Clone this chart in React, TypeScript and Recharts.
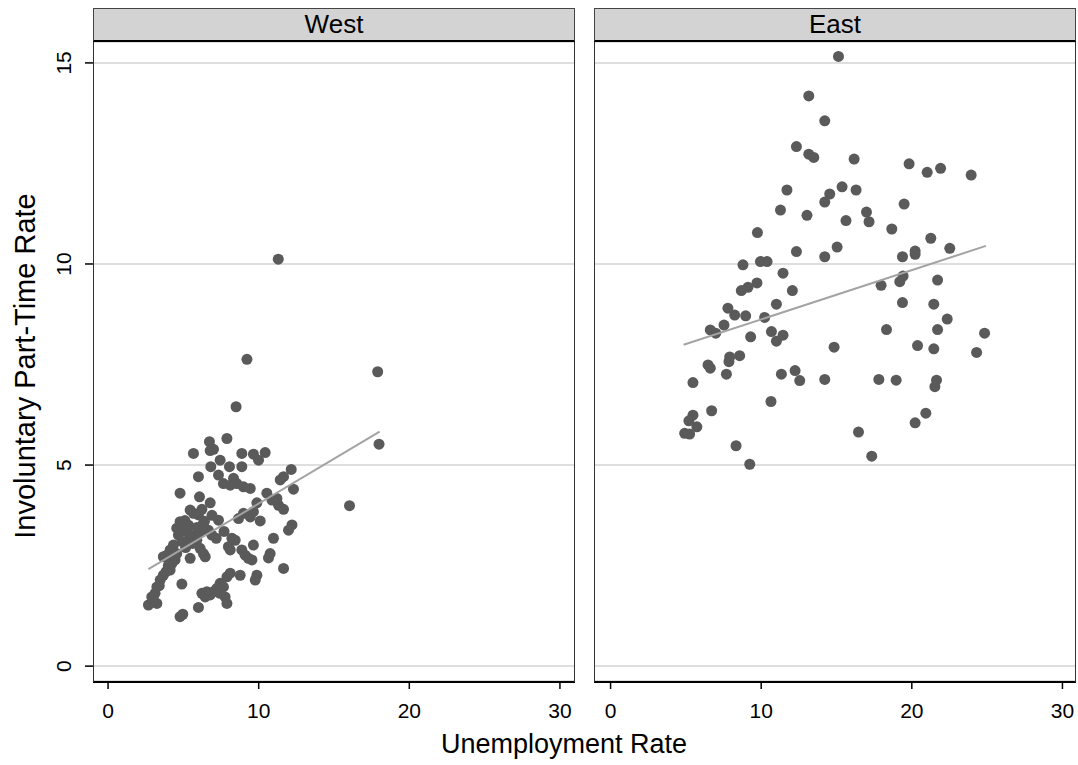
import { CartesianGrid, Scatter, ScatterChart, XAxis, YAxis } from 'recharts';

// unemployment rate, involuntary part-time rate
const westPoints: [number, number][] = [
  [11.3, 10.12], [9.22, 7.63], [8.5, 6.45], [7.89, 5.66], [6.73, 5.58], [6.78, 5.36], [7.0, 5.39],
  [5.67, 5.29], [8.88, 5.29], [9.65, 5.27], [9.99, 5.12], [10.43, 5.31], [6.82, 4.96], [7.44, 5.12],
  [8.06, 4.96], [8.88, 4.96], [12.16, 4.89], [6.0, 4.71], [7.33, 4.75], [7.66, 4.54], [8.33, 4.67],
  [8.55, 4.54], [8.99, 4.46], [9.44, 4.42], [8.11, 4.5], [11.43, 4.63], [11.65, 4.71], [12.31, 4.4],
  [4.78, 4.3], [6.07, 4.21], [6.78, 4.06], [5.45, 3.88], [5.67, 3.8], [6.0, 3.76], [6.23, 3.9],
  [10.54, 4.3], [9.88, 4.06], [10.88, 4.13], [11.21, 4.17], [11.32, 4.0], [11.65, 3.9], [8.99, 3.8],
  [9.44, 3.71], [9.65, 3.84], [8.66, 3.67], [10.1, 3.61], [7.33, 3.63], [4.78, 3.59], [4.56, 3.43],
  [5.0, 3.47], [5.23, 3.34], [4.67, 3.26], [6.33, 3.55], [6.66, 3.38], [6.89, 3.26], [6.11, 3.34],
  [5.78, 3.26], [5.45, 3.18], [5.89, 3.13], [7.18, 3.18], [12.21, 3.51], [11.98, 3.38], [10.98, 3.18],
  [8.22, 3.18], [8.44, 3.13], [7.99, 2.97], [8.11, 2.89], [9.65, 3.01], [8.88, 2.89], [9.1, 2.76],
  [9.32, 2.68], [9.55, 2.64], [10.76, 2.8], [10.65, 2.69], [6.11, 2.93], [6.33, 2.8], [6.45, 2.72],
  [5.45, 2.68], [4.34, 3.01], [4.12, 2.89], [3.9, 2.76], [3.67, 2.72], [4.56, 2.8], [4.45, 2.64],
  [4.23, 2.55], [11.65, 2.43], [4.12, 2.39], [3.67, 2.26], [3.46, 2.14], [3.24, 1.97], [3.12, 1.81],
  [2.9, 1.72], [3.01, 1.64], [2.68, 1.52], [3.24, 1.56], [4.9, 2.04], [9.88, 2.26], [9.77, 2.14],
  [8.77, 2.26], [7.89, 2.22], [8.11, 2.31], [7.44, 2.06], [7.66, 1.97], [7.22, 1.93], [7.0, 1.85],
  [6.56, 1.85], [6.23, 1.81], [6.45, 1.72], [6.78, 1.77], [7.44, 1.81], [7.77, 1.72], [7.89, 1.56],
  [6.0, 1.46], [4.96, 1.29], [4.78, 1.23], [17.9, 7.32], [17.99, 5.52], [16.03, 3.99],
  [5.1, 3.62], [5.35, 3.5], [4.9, 3.1], [5.6, 3.05], [6.4, 3.6], [5.15, 2.95], [4.0, 2.5],
  [3.85, 2.35], [5.9, 3.45], [7.7, 3.35], [6.9, 3.75], [3.4, 2.0],
];

const eastPoints: [number, number][] = [
  [15.13, 15.16], [13.16, 14.18], [14.22, 13.56], [12.34, 12.92], [13.16, 12.73], [13.49, 12.65],
  [16.17, 12.61], [11.71, 11.84], [15.37, 11.92], [16.3, 11.84], [14.55, 11.74], [14.22, 11.54],
  [11.28, 11.34], [13.04, 11.21], [15.63, 11.08], [9.75, 10.78], [12.34, 10.31], [14.22, 10.18],
  [15.04, 10.42], [8.79, 9.98], [9.95, 10.06], [10.39, 10.06], [11.45, 9.77], [12.07, 9.34],
  [8.68, 9.34], [9.12, 9.42], [9.72, 9.53], [11.01, 9.0], [7.79, 8.9], [8.24, 8.73], [8.97, 8.71],
  [10.23, 8.67], [7.53, 8.48], [6.62, 8.36], [6.98, 8.28], [9.3, 8.19], [10.68, 8.32], [11.45, 8.23],
  [11.01, 8.08], [14.84, 7.93], [6.47, 7.49], [6.62, 7.41], [7.91, 7.69], [7.86, 7.57], [8.57, 7.72],
  [7.69, 7.26], [5.47, 7.05], [11.34, 7.26], [12.25, 7.35], [12.56, 7.1], [14.22, 7.13], [10.65, 6.58],
  [6.71, 6.35], [5.47, 6.24], [5.2, 6.1], [5.73, 5.95], [4.92, 5.79], [5.25, 5.77], [8.33, 5.48],
  [9.24, 5.02], [19.82, 12.49], [21.02, 12.28], [21.91, 12.38], [23.94, 12.21], [19.49, 11.49],
  [16.99, 11.29], [17.16, 11.05], [18.67, 10.87], [21.26, 10.64], [20.22, 10.32], [20.22, 10.24],
  [22.52, 10.39], [19.38, 10.18], [19.42, 9.7], [19.2, 9.56], [17.96, 9.47], [21.71, 9.6],
  [19.38, 9.04], [21.46, 9.0], [22.35, 8.63], [18.32, 8.37], [21.71, 8.37], [24.83, 8.28],
  [20.38, 7.97], [21.46, 7.89], [24.3, 7.8], [17.81, 7.13], [18.96, 7.11], [21.64, 7.11],
  [21.53, 6.95], [20.93, 6.29], [20.22, 6.05], [16.46, 5.82], [17.34, 5.22],
];

// fitted line end points
const westFit: [number, number][] = [[2.68, 2.41], [18.03, 5.83]];
const eastFit: [number, number][] = [[4.85, 7.99], [24.92, 10.45]];

const xTicks = [0, 10, 20, 30];
const yTicks = [0, 5, 10, 15];

const FONT = "'Liberation Sans', Arial, sans-serif";
const DOT = '#5a5a5a';

const toRows = (pts: [number, number][]) => pts.map(([x, y]) => ({ x, y }));

const Dot = (p: any) => <circle cx={p.cx} cy={p.cy} r={5.5} fill={DOT} />;
const NoDot = () => <g />;

const YTick = (p: any) => (
    <text
        x={p.x - 21}
        y={p.y}
        transform={`rotate(-90, ${p.x - 21}, ${p.y})`}
        textAnchor="middle"
        dominantBaseline="central"
        fontSize={21}
        fontFamily={FONT}
        fill="#000"
    >
        {p.payload.value}
    </text>
);

function Panel({ title, points, fit, xDomain, left, showY }: any) {
    const width = showY ? 580 : 484;
    const plotLeft = showY ? 93 : 0;
    const plotWidth = 482;
    return (
        <div style={{ position: 'absolute', left, top: 0, width, height: 765 }}>
            <ScatterChart width={width} height={765} margin={{ top: 42, right: width - plotLeft - plotWidth, bottom: 0, left: 0 }}>
                <CartesianGrid vertical={false} stroke="#dedede" strokeWidth={2} />
                <XAxis
                    type="number"
                    dataKey="x"
                    domain={xDomain}
                    ticks={xTicks}
                    allowDataOverflow
                    height={84}
                    axisLine={false}
                    tickSize={8}
                    tickMargin={14}
                    tickLine={{ stroke: '#000', strokeWidth: 1.5 }}
                    tick={{ fontSize: 21, fontFamily: FONT, fill: '#000' }}
                />
                <YAxis
                    type="number"
                    dataKey="y"
                    domain={[-0.37, 15.52]}
                    ticks={yTicks}
                    allowDataOverflow
                    hide={!showY}
                    width={93}
                    axisLine={false}
                    tickSize={8}
                    tickMargin={0}
                    tickLine={{ stroke: '#000', strokeWidth: 1.5 }}
                    tick={<YTick />}
                />
                <Scatter data={toRows(points)} shape={Dot} isAnimationActive={false} />
                <Scatter data={toRows(fit)} shape={NoDot} line={{ stroke: '#a3a3a3', strokeWidth: 2 }} isAnimationActive={false} />
            </ScatterChart>
            {/* strip */}
            <div
                style={{
                    position: 'absolute', left: plotLeft, top: 8, width: plotWidth, height: 34, boxSizing: 'border-box',
                    background: '#d3d3d3', borderTop: '1px solid #444', borderLeft: '1px solid #444', borderRight: '1px solid #444',
                    borderBottom: '2px solid #000', textAlign: 'center', fontFamily: FONT, fontSize: 26, lineHeight: '31px', color: '#000',
                }}
            >
                {title}
            </div>
            {/* frame */}
            <div
                style={{
                    position: 'absolute', left: plotLeft, top: 42, width: plotWidth, height: 641, boxSizing: 'border-box',
                    borderLeft: '1px solid #333', borderRight: '1px solid #333', borderBottom: '2px solid #000', pointerEvents: 'none',
                }}
            />
        </div>
    );
}

export default function App() {
    return (
        <div style={{ position: 'absolute', left: 0, top: 0, width: 1078, height: 765, background: '#fff', fontFamily: FONT }}>
            <Panel title="West" points={westPoints} fit={westFit} xDomain={[-1, 31]} left={0} showY />
            <Panel title="East" points={eastPoints} fit={eastFit} xDomain={[-1.1, 30.9]} left={594} showY={false} />
            <div style={{ position: 'absolute', left: 0, width: 1078, top: 729, textAlign: 'center', paddingLeft: 50, boxSizing: 'border-box', fontSize: 27 }}>
                Unemployment Rate
            </div>
            <div
                style={{
                    position: 'absolute', left: 25, top: 366, transform: 'translate(-50%, -50%) rotate(-90deg)', whiteSpace: 'nowrap', fontSize: 29,
                }}
            >
                Involuntary Part-Time Rate
            </div>
        </div>
    );
}
